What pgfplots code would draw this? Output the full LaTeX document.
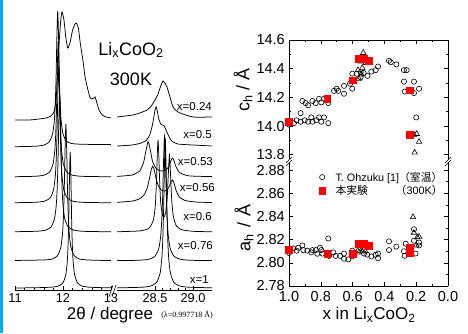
\documentclass[border=0pt]{standalone}
\usepackage{fontspec}
\setmainfont{Liberation Sans}
\newfontfamily\cjk{Noto Sans CJK JP}
\newfontfamily\serifr{Liberation Serif}
\usepackage{pgfplots}
\pgfplotsset{compat=1.18}
\pgfplotsset{
  spec/.style={scale only axis, anchor=south west, ymin=0, ymax=280, height=280pt,
    tick align=inside, major tick length=4pt, minor tick length=2.3pt,
    axis line style={line width=0.7pt,-}, every tick/.style={black,line width=0.6pt},
    tick label style={font=\fontsize{12.8}{12.8}\selectfont},
    /pgf/number format/assume math mode=true, ytick=\empty},
  sp/.style={black, line width=0.75pt, no markers, smooth, tension=0.35},
  rp/.style={scale only axis, anchor=south west, width=159pt, xmin=0, xmax=1, x dir=reverse,
    tick align=inside, major tick length=4pt, minor tick length=2.3pt,
    axis line style={line width=0.7pt}, every tick/.style={black,line width=0.6pt},
    tick label style={font=\fontsize{14.5}{14.5}\selectfont},
    /pgf/number format/assume math mode=true, xtick={0,0.2,0.4,0.6,0.8,1}, minor x tick num=1,
    minor y tick num=1, clip=false},
  ohz/.style={only marks, mark=o, mark size=2.6pt, black, mark options={line width=0.6pt}},
  tri/.style={only marks, mark=triangle, mark size=3.2pt, black, mark options={line width=0.6pt}},
  own/.style={only marks, mark=square*, mark size=3.4pt, red, mark options={draw=red, fill=red}},
}
\begin{document}
\begin{tikzpicture}
\useasboundingbox (0pt,0pt) rectangle (468pt,333pt);
\fill[cyan] (0pt,0pt) rectangle (3pt,333pt);

% ---------- left spectra, 11-13 deg ----------
\begin{axis}[at={(15pt,43pt)}, width=96pt, xmin=11, xmax=13, axis x line*=bottom, hide y axis, spec,
  xtick={11,12,13}, minor x tick num=4]
\addplot[sp] coordinates {(11.0,2.0)(11.45,2.3)(11.75,2.8)(11.90,3.9)(12.00,7.2)(12.06,15.6)(12.09,29)(12.105,44)(12.12,70)(12.135,111)(12.15,138)(12.165,111)(12.18,70)(12.195,44)(12.21,29)(12.24,15.6)(12.30,7.2)(12.40,3.9)(12.55,2.8)(12.85,2.3)(13.0,2.2)};
\addplot[sp] coordinates {(11.0,29.5)(11.3,29.8)(11.59,30.0)(11.77,30.9)(11.885,34.2)(11.955,42.7)(11.99,56.4)(12.0075,71.5)(12.025,97.5)(12.0425,139)(12.06,166)(12.0775,139)(12.095,97.5)(12.1125,71.5)(12.13,56.4)(12.165,42.7)(12.235,34.2)(12.35,30.9)(12.53,30)(12.8,29.6)(13.0,29.5)};
\addplot[sp] coordinates {(11.0,58.3)(11.46,58.75)(11.64,59.9)(11.755,63.2)(11.825,71.6)(11.86,85)(11.8775,100)(11.895,126)(11.9125,168)(11.93,194)(11.9475,168)(11.965,126)(11.9825,100)(12.0,85)(12.035,71.6)(12.105,63.2)(12.22,59.9)(12.4,58.75)(12.7,58.4)(13.0,58.3)};
\addplot[sp] coordinates {(11.0,87.3)(11.44,87.75)(11.62,88.9)(11.735,92.2)(11.805,100.6)(11.84,114)(11.8575,129)(11.875,155)(11.8925,197)(11.91,223)(11.9275,197)(11.945,155)(11.9625,129)(11.98,114)(12.015,100.6)(12.085,92.2)(12.2,88.9)(12.38,87.75)(12.7,87.4)(13.0,87.3)};
\addplot[sp] coordinates {(11.0,113.3)(11.43,113.75)(11.61,114.9)(11.725,118.2)(11.795,126.6)(11.83,140)(11.8475,155)(11.865,181)(11.8825,223)(11.90,249)(11.9175,223)(11.935,181)(11.9525,155)(11.97,140)(12.005,126.6)(12.075,118.2)(12.19,114.9)(12.37,113.75)(12.7,113.4)(13.0,113.3)};
\addplot[sp] coordinates {(11.0,143.3)(11.42,143.75)(11.6,144.9)(11.715,148.2)(11.785,156.6)(11.82,170)(11.8375,185)(11.855,211)(11.8725,253)(11.89,279)(11.9075,253)(11.925,211)(11.9425,185)(11.96,170)(11.995,157)(12.065,149)(12.18,146.5)(12.36,145.8)(12.7,145.5)(13.0,145.5)};
\addplot[sp] coordinates {(11.0,170)(11.3,170)(11.5,171)(11.65,172)(11.75,174)(11.80,177)(11.83,182)(11.87,200)(11.91,240)(11.95,268)(11.98,278)(12.02,270)(12.06,252)(12.10,242)(12.15,248)(12.2,260)(12.25,266)(12.28,267)(12.32,262)(12.36,247)(12.42,228)(12.46,213)(12.52,200)(12.56,193)(12.6,191)(12.64,192)(12.67,193)(12.70,188)(12.75,180)(12.8,176)(12.85,174)(12.9,173)(13.0,172)};
\end{axis}

% ---------- left spectra, 28-29.25 deg ----------
\begin{axis}[at={(117pt,43pt)}, width=95pt, xmin=28, xmax=29.25, axis x line*=bottom, hide y axis, spec,
  xtick={28.5,29.0}, minor x tick num=4,
  xticklabel style={/pgf/number format/.cd, fixed, fixed zerofill, precision=1}]
\addplot[sp] coordinates {(28.0,2.1)(28.335,2.8)(28.445,4)(28.5225,7.7)(28.5675,17)(28.59,32)(28.60125,48.5)(28.6125,77)(28.62375,122)(28.635,152)(28.64625,122)(28.6575,77)(28.66875,48.5)(28.68,32)(28.7025,17)(28.7475,7.7)(28.825,4)(28.935,2.8)(29.25,2.2)};
\addplot[sp] coordinates {(28.0,29.4)(28.275,29.7)(28.415,30.7)(28.5,33.8)(28.55,41.5)(28.575,54)(28.5875,68)(28.6,91.5)(28.6125,129)(28.625,154)(28.6375,129)(28.65,91.5)(28.6625,68)(28.675,54)(28.7,41.5)(28.75,33.8)(28.835,30.7)(28.975,29.7)(29.25,29.4)};
\addplot[sp] coordinates {(28.0,58.25)(28.3,59.1)(28.42,61.7)(28.48,70.2)(28.505,85.6)(28.52,109.9)(28.53,134.9)(28.54,150)(28.55,135.4)(28.56,111)(28.575,87.7)(28.6,74.5)(28.62,73.1)(28.64,77.3)(28.66,91.8)(28.675,115.5)(28.69,135)(28.705,114.7)(28.72,90.1)(28.74,74.1)(28.78,64.2)(28.85,60.3)(29.0,58.7)(29.25,58.2)};
\addplot[sp] coordinates {(28.0,87.7)(28.2,88.9)(28.3,91.3)(28.36,95.6)(28.4,102.7)(28.43,112.5)(28.45,120)(28.47,123.75)(28.49,120.3)(28.51,112.9)(28.54,105)(28.58,100)(28.62,99)(28.66,100)(28.69,104)(28.71,108)(28.73,110)(28.75,107)(28.78,99)(28.82,93)(28.9,89.4)(29.05,87.9)(29.25,87.45)};
\addplot[sp] coordinates {(28.0,113.6)(28.2,115)(28.3,119.2)(28.35,127.6)(28.38,139)(28.41,148.4)(28.44,139.2)(28.47,128)(28.52,121)(28.58,119)(28.64,120)(28.68,123.2)(28.71,129.5)(28.73,131.9)(28.75,129.3)(28.78,122.6)(28.83,117.1)(28.95,114.1)(29.25,113.4)};
\addplot[sp] coordinates {(28.0,144)(28.2,145)(28.32,147)(28.39,150)(28.43,155)(28.46,163)(28.485,173)(28.5,180)(28.515,183)(28.53,179)(28.55,171)(28.575,166)(28.6,165)(28.62,164)(28.645,160)(28.68,154)(28.72,149)(28.8,146)(29.0,145)(29.25,144)};
\addplot[sp] coordinates {(28.0,173)(28.21,175)(28.3,177)(28.395,180)(28.45,184)(28.5,190)(28.54,196)(28.566,202)(28.585,206)(28.605,209)(28.63,207)(28.658,203)(28.697,193)(28.737,183)(28.77,180)(28.83,177)(29.0,173)(29.25,173)};
\end{axis}

% break marks on the 2theta axis
\draw[line width=0.6pt] (109pt,36pt) -- (113pt,48pt);
\draw[line width=0.6pt] (112pt,36pt) -- (116pt,48pt);

\begin{scope}[every node/.style={inner sep=0pt, anchor=east, font=\fontsize{11.5}{11.5}\selectfont}]
\node at (212pt,226pt) {x=0.24};
\node at (212pt,198pt) {x=0.5};
\node at (213pt,171pt) {x=0.53};
\node at (215pt,145pt) {x=0.56};
\node at (212pt,116pt) {x=0.6};
\node at (213pt,87pt) {x=0.76};
\node at (209pt,53pt) {x=1};
\end{scope}
\node[inner sep=0pt, anchor=base, font=\fontsize{18}{18}\selectfont] at (131pt,278pt) {Li\textsubscript{x}CoO\textsubscript{2}};
\node[inner sep=0pt, anchor=base, font=\fontsize{18}{18}\selectfont] at (131pt,248pt) {300K};
\node[inner sep=0pt, font=\fontsize{17}{17}\selectfont] at (110pt,18pt) {2θ / degree};
\node[inner sep=0pt, font=\serifr\fontsize{8}{8}\selectfont] at (187pt,18pt) {(λ=0.997718 Å)};

% ---------- right: c_h ----------
\begin{axis}[at={(289pt,174pt)}, height=119pt, axis x line*=top, axis y line*=box, rp,
  xticklabel=\empty, ymin=13.77, ymax=14.6, ytick={13.8,14.0,14.2,14.4,14.6},
  yticklabel style={inner sep=1pt, xshift=-3pt, /pgf/number format/.cd, fixed, fixed zerofill, precision=1}]
\addplot[ohz] coordinates {(1.0,14.01)(0.969,14.02)(0.952,14.04)(0.927,14.03)(0.927,14.09)(0.901,14.04)(0.880,14.03)(0.860,14.06)(0.853,14.03)(0.828,14.04)(0.811,14.06)(0.797,14.03)(0.780,14.06)(0.753,14.02)
(0.916,14.175)(0.895,14.16)(0.880,14.145)(0.853,14.175)(0.832,14.16)(0.811,14.19)(0.797,14.165)(0.780,14.19)(0.753,14.16)
(0.717,14.245)(0.700,14.26)(0.690,14.245)(0.654,14.225)(0.654,14.28)(0.616,14.295)(0.602,14.26)(0.602,14.365)(0.574,14.365)(0.549,14.375)(0.530,14.37)(0.55,14.34)(0.507,14.35)(0.482,14.38)(0.455,14.39)(0.440,14.415)
(0.371,14.455)(0.360,14.445)(0.325,14.43)(0.277,14.39)(0.260,14.39)(0.277,14.31)(0.272,14.24)(0.214,14.31)(0.214,14.23)(0.182,14.26)(0.200,14.06)};
\addplot[tri] coordinates {(0.533,14.51)(0.549,14.45)(0.518,14.44)(0.566,14.39)(0.539,14.405)(0.560,14.33)(0.545,14.36)(0.214,13.94)(0.197,13.945)(0.182,13.89)(0.210,13.815)};
\addplot[own] coordinates {(1.0,14.03)(0.76,14.19)(0.60,14.32)(0.56,14.47)(0.53,14.47)(0.50,14.455)(0.24,14.25)(0.24,13.94)};
\end{axis}

% ---------- right: a_h ----------
\begin{axis}[at={(289pt,47pt)}, height=124pt, axis x line*=bottom, axis y line*=box, rp,
  ymin=2.78, ymax=2.887, ytick={2.78,2.80,2.82,2.84,2.86,2.88},
  xticklabel style={inner sep=1pt, yshift=-4pt, /pgf/number format/.cd, fixed, fixed zerofill, precision=1},
  yticklabel style={inner sep=1pt, xshift=-3pt, /pgf/number format/.cd, fixed, fixed zerofill, precision=2},
  legend style={at={(0.167,0.955)}, anchor=north west, draw=none, fill=none,
    font=\fontsize{10.8}{11}\selectfont, row sep=-1pt}, legend cell align=left]
\addplot[ohz] coordinates {(1.0,2.8085)(0.973,2.8125)(0.952,2.8105)(0.942,2.813)(0.916,2.815)(0.910,2.811)(0.885,2.8105)(0.860,2.809)(0.853,2.811)(0.832,2.811)(0.822,2.8078)(0.805,2.813)(0.797,2.811)(0.790,2.808)(0.753,2.821)(0.748,2.806)(0.721,2.809)(0.706,2.806)(0.679,2.806)(0.654,2.808)(0.654,2.8035)(0.627,2.803)(0.602,2.8105)(0.602,2.8055)(0.560,2.811)(0.549,2.813)(0.528,2.808)(0.507,2.807)(0.482,2.8055)(0.455,2.807)(0.440,2.804)(0.440,2.808)(0.371,2.8185)(0.371,2.811)(0.325,2.814)(0.277,2.81)(0.272,2.806)(0.266,2.8165)(0.214,2.829)(0.214,2.819)(0.204,2.808)(0.182,2.815)(0.182,2.8175)};
\addlegendentry{\hspace{8pt}\makebox[107pt][l]{T. Ohzuku [1]{\cjk （室温）}}}
\addplot[tri, forget plot] coordinates {(0.220,2.8395)(0.214,2.826)(0.193,2.822)(0.182,2.8225)(0.56,2.809)(0.54,2.81)(0.52,2.81)(0.2,2.815)};
\addplot[own] coordinates {(1.0,2.811)(0.76,2.808)(0.60,2.808)(0.56,2.8165)(0.53,2.8165)(0.50,2.815)(0.24,2.809)(0.24,2.813)};
\addlegendentry{\hspace{8pt}\makebox[107pt][l]{{\cjk 本実験}\hfill{\cjk （}300K{\cjk ）}}}
\end{axis}

% axis breaks on the right panel
\draw[line width=0.6pt] (286pt,170pt) -- (292pt,176pt);
\draw[line width=0.6pt] (286pt,167pt) -- (292pt,173pt);
\draw[line width=0.6pt] (445pt,170pt) -- (451pt,176pt);
\draw[line width=0.6pt] (445pt,167pt) -- (451pt,173pt);

\node[rotate=90, inner sep=0pt, font=\fontsize{18}{18}\selectfont] at (243pt,243pt) {c\textsubscript{h}\hspace{5pt}/\hspace{5pt}Å};
\node[rotate=90, inner sep=0pt, font=\fontsize{18}{18}\selectfont] at (244pt,105pt) {a\textsubscript{h}\hspace{6pt}/\hspace{6pt}Å};
\node[inner sep=0pt, font=\fontsize{17}{17}\selectfont] at (369pt,18pt) {x in Li\textsubscript{x}CoO\textsubscript{2}};
\end{tikzpicture}
\end{document}
